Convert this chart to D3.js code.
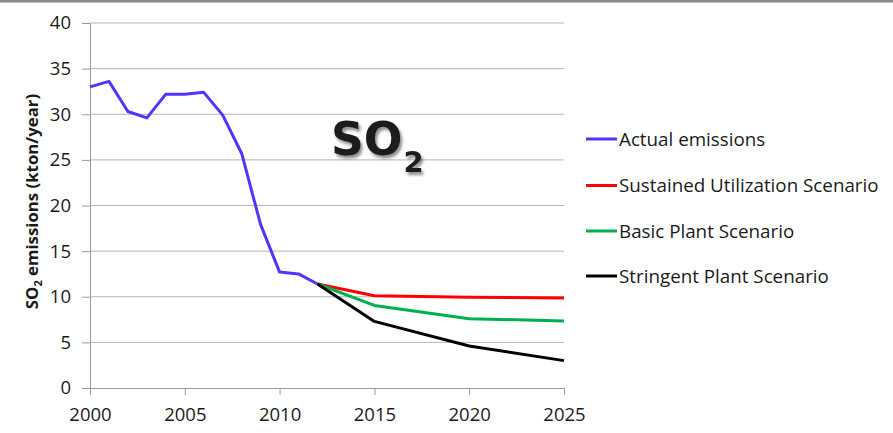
<!DOCTYPE html>
<html>
<head>
<meta charset="utf-8">
<script src="https://cdn.jsdelivr.net/npm/d3@7"></script>
<style>
  html, body { margin: 0; padding: 0; background: #fff; }
  svg { display: block; }
  text { font-family: "Open Sans", "Liberation Sans", sans-serif; fill: #1a1a1a; }
</style>
</head>
<body>
<svg id="chart" width="893" height="433"></svg>
<script>
// Annual SO2 emissions (kton/year)
const actualYears = [2000, 2001, 2002, 2003, 2004, 2005, 2006, 2007, 2008, 2009, 2010, 2011, 2012];
const actualValues = [33.0, 33.6, 30.3, 29.6, 32.2, 32.2, 32.4, 29.9, 25.7, 17.9, 12.7, 12.5, 11.4];

// Projection scenarios, all starting from the 2012 level
const scenarioYears = [2012, 2015, 2020, 2025];
const sustainedValues = [11.4, 10.1, 9.95, 9.85];
const basicValues = [11.4, 9.05, 7.6, 7.35];
const stringentValues = [11.4, 7.3, 4.6, 3.0];

const seriesNames = ["Actual emissions", "Sustained Utilization Scenario", "Basic Plant Scenario", "Stringent Plant Scenario"];
const seriesColors = ["#5433ff", "#ff0000", "#00b050", "#000000"];

const xTicks = [2000, 2005, 2010, 2015, 2020, 2025];
const yTicks = [0, 5, 10, 15, 20, 25, 30, 35, 40];

const svg = d3.select("#chart");

// thin grey rule across the top edge
svg.append("rect").attr("x", 0).attr("y", 0).attr("width", 893).attr("height", 2).attr("fill", "#8c8c8c");
svg.append("rect").attr("x", 0).attr("y", 2).attr("width", 893).attr("height", 1).attr("fill", "#bdbdbd");

const x = d3.scaleLinear().domain([2000, 2025]).range([90, 564]);
const y = d3.scaleLinear().domain([0, 40]).range([388, 23]);

// horizontal gridlines
svg.append("g")
  .selectAll("line")
  .data(yTicks.filter(d => d > 0))
  .join("line")
  .attr("x1", x(2000)).attr("x2", x(2025))
  .attr("y1", d => y(d)).attr("y2", d => y(d))
  .attr("stroke", "#b5b5b5").attr("stroke-width", 1);

// y axis
const yAxis = svg.append("g")
  .attr("transform", `translate(${x(2000)},0)`)
  .call(d3.axisLeft(y).tickValues(yTicks).tickSize(8).tickPadding(11));
yAxis.select(".domain").attr("stroke", "#9a9a9a");
yAxis.selectAll(".tick line").attr("stroke", "#9a9a9a");
yAxis.selectAll(".tick text").attr("font-size", 18.5).attr("fill", "#1a1a1a")
  .style("font-family", "'Open Sans', sans-serif");

// x axis
const xAxis = svg.append("g")
  .attr("transform", `translate(0,${y(0)})`)
  .call(d3.axisBottom(x).tickValues(xTicks).tickFormat(d3.format("d")).tickSize(7).tickPadding(13));
xAxis.select(".domain").attr("stroke", "#9a9a9a");
xAxis.selectAll(".tick line").attr("stroke", "#9a9a9a");
xAxis.selectAll(".tick text").attr("font-size", 18.5).attr("fill", "#1a1a1a")
  .style("font-family", "'Open Sans', sans-serif");

// y axis title with subscript
const yTitle = svg.append("text")
  .attr("transform", `translate(38,${(y(0) + y(40)) / 2 - 4}) rotate(-90)`)
  .attr("text-anchor", "middle")
  .attr("font-size", 16.8)
  .attr("font-weight", "bold");
yTitle.append("tspan").text("SO");
yTitle.append("tspan").text("2").attr("font-size", 11).attr("dy", 4);
yTitle.append("tspan").text(" emissions (kton/year)").attr("dy", -4);

// lines
const line = d3.line().x(d => x(d[0])).y(d => y(d[1]));
const seriesData = [
  d3.zip(actualYears, actualValues),
  d3.zip(scenarioYears, sustainedValues),
  d3.zip(scenarioYears, basicValues),
  d3.zip(scenarioYears, stringentValues)
];
svg.append("g")
  .selectAll("path")
  .data(seriesData)
  .join("path")
  .attr("d", line)
  .attr("fill", "none")
  .attr("stroke", (d, i) => seriesColors[i])
  .attr("stroke-width", 3)
  .attr("stroke-linejoin", "round");

// legend
const legendY = [139, 185.5, 231, 276];
const legend = svg.append("g")
  .selectAll("g")
  .data(seriesNames)
  .join("g")
  .attr("transform", (d, i) => `translate(586,${legendY[i]})`);
legend.append("line")
  .attr("x1", 0).attr("x2", 31).attr("y1", 0).attr("y2", 0)
  .attr("stroke", (d, i) => seriesColors[i]).attr("stroke-width", 3);
legend.append("text")
  .attr("x", 33).attr("y", 0).attr("dy", "0.35em")
  .attr("font-size", 18.8)
  .text(d => d);

// large chemical formula label with soft shadow
const defs = svg.append("defs");
const f = defs.append("filter").attr("id", "shadow").attr("x", "-20%").attr("y", "-20%").attr("width", "140%").attr("height", "160%");
f.append("feDropShadow").attr("dx", 2).attr("dy", 3).attr("stdDeviation", 1.6)
  .attr("flood-color", "#000").attr("flood-opacity", 0.45);
const big = svg.append("text")
  .attr("x", 331).attr("y", 155)
  .attr("font-size", 45.5)
  .attr("font-weight", "bold")
  .style("font-family", "'DejaVu Sans', sans-serif")
  .attr("fill", "#000")
  .attr("filter", "url(#shadow)");
big.append("tspan").text("SO");
big.append("tspan").text("2").attr("font-size", 29).attr("dy", 17).attr("dx", 1);
</script>
</body>
</html>
